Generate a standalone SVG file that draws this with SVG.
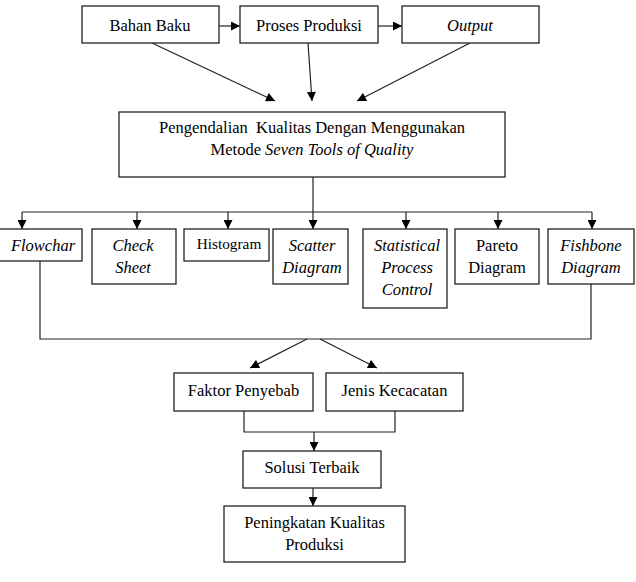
<svg xmlns="http://www.w3.org/2000/svg" width="636" height="582" viewBox="0 0 636 582">
<style>
.box{fill:#fff;stroke:#222;stroke-width:1.3}
.ln{fill:none;stroke:#222;stroke-width:1.2}
text{font-family:"Liberation Serif","Times New Roman",serif;font-size:16.5px;fill:#000;text-anchor:middle}
.it{font-style:italic}
</style>
<defs>
<marker id="ah" viewBox="0 0 10 10" refX="10" refY="5" markerUnits="userSpaceOnUse" markerWidth="10" markerHeight="9" orient="auto">
<path d="M0,0 L10,5 L0,10 z" fill="#000"/>
</marker>
</defs>
<rect width="636" height="582" fill="#fff"/>
<g id="connectors">
<line class="ln" x1="219" y1="26" x2="240" y2="26" marker-end="url(#ah)"/>
<line class="ln" x1="378" y1="26" x2="402" y2="26" marker-end="url(#ah)"/>
<line class="ln" x1="152" y1="43" x2="275" y2="101" marker-end="url(#ah)"/>
<line class="ln" x1="308" y1="43" x2="312" y2="101" marker-end="url(#ah)"/>
<line class="ln" x1="470" y1="43" x2="357" y2="101" marker-end="url(#ah)"/>
<line class="ln" x1="313" y1="177" x2="313" y2="212"/>
<line class="ln" x1="22" y1="212" x2="592" y2="212"/>
<line class="ln" x1="22" y1="212" x2="22" y2="229" marker-end="url(#ah)"/>
<line class="ln" x1="137" y1="212" x2="137" y2="229" marker-end="url(#ah)"/>
<line class="ln" x1="228" y1="212" x2="228" y2="229" marker-end="url(#ah)"/>
<line class="ln" x1="313" y1="212" x2="313" y2="229" marker-end="url(#ah)"/>
<line class="ln" x1="406" y1="212" x2="406" y2="229" marker-end="url(#ah)"/>
<line class="ln" x1="498" y1="212" x2="498" y2="229" marker-end="url(#ah)"/>
<line class="ln" x1="592" y1="212" x2="592" y2="229" marker-end="url(#ah)"/>
<polyline class="ln" points="40,261 40,339 591,339 591,284"/>
<line class="ln" x1="307" y1="339" x2="250" y2="368" marker-end="url(#ah)"/>
<line class="ln" x1="320" y1="339" x2="377" y2="368" marker-end="url(#ah)"/>
<polyline class="ln" points="244,411 244,432 395,432 395,411"/>
<line class="ln" x1="314" y1="432" x2="314" y2="451" marker-end="url(#ah)"/>
<line class="ln" x1="313" y1="488" x2="313" y2="506" marker-end="url(#ah)"/>
</g>
<g id="bahan-baku"><rect class="box" x="82" y="6" width="137" height="37"/><text x="150" y="31">Bahan Baku</text></g>
<g id="proses-produksi"><rect class="box" x="240" y="6" width="138" height="37"/><text x="309" y="31">Proses Produksi</text></g>
<g id="output"><rect class="box" x="402" y="6" width="137" height="37"/><text class="it" x="470" y="31">Output</text></g>
<g id="pengendalian"><rect class="box" x="119" y="112" width="386" height="65"/>
<text x="312" y="133" xml:space="preserve">Pengendalian  Kualitas Dengan Menggunakan</text>
<text x="312" y="155">Metode <tspan class="it">Seven Tools of Quality</tspan></text></g>
<g id="flowchar"><rect class="box" x="-1" y="229" width="83" height="32"/><text class="it" x="43" y="251">Flowchar</text></g>
<g id="check-sheet"><rect class="box" x="92" y="229" width="84" height="55"/><text class="it" x="133" y="251">Check</text><text class="it" x="133" y="273">Sheet</text></g>
<g id="histogram"><rect class="box" x="184" y="229" width="85" height="32"/><text x="229" y="249" style="font-size:15.3px">Histogram</text></g>
<g id="scatter"><rect class="box" x="273" y="229" width="75" height="55"/><text class="it" x="312" y="251">Scatter</text><text class="it" x="312" y="273">Diagram</text></g>
<g id="spc"><rect class="box" x="363" y="229" width="84" height="79"/><text class="it" x="407" y="251">Statistical</text><text class="it" x="407" y="273">Process</text><text class="it" x="407" y="295">Control</text></g>
<g id="pareto"><rect class="box" x="455" y="229" width="84" height="55"/><text x="497" y="251">Pareto</text><text x="497" y="273">Diagram</text></g>
<g id="fishbone"><rect class="box" x="548" y="229" width="86" height="55"/><text class="it" x="591" y="251">Fishbone</text><text class="it" x="591" y="273">Diagram</text></g>
<g id="faktor-penyebab"><rect class="box" x="174" y="373" width="139" height="38"/><text x="243.5" y="396">Faktor Penyebab</text></g>
<g id="jenis-kecacatan"><rect class="box" x="326" y="373" width="137" height="38"/><text x="394.5" y="396">Jenis Kecacatan</text></g>
<g id="solusi-terbaik"><rect class="box" x="243" y="451" width="138" height="37"/><text x="312" y="473">Solusi Terbaik</text></g>
<g id="peningkatan"><rect class="box" x="224" y="506" width="181" height="56"/><text x="314.5" y="528">Peningkatan Kualitas</text><text x="314.5" y="550">Produksi</text></g>
</svg>
